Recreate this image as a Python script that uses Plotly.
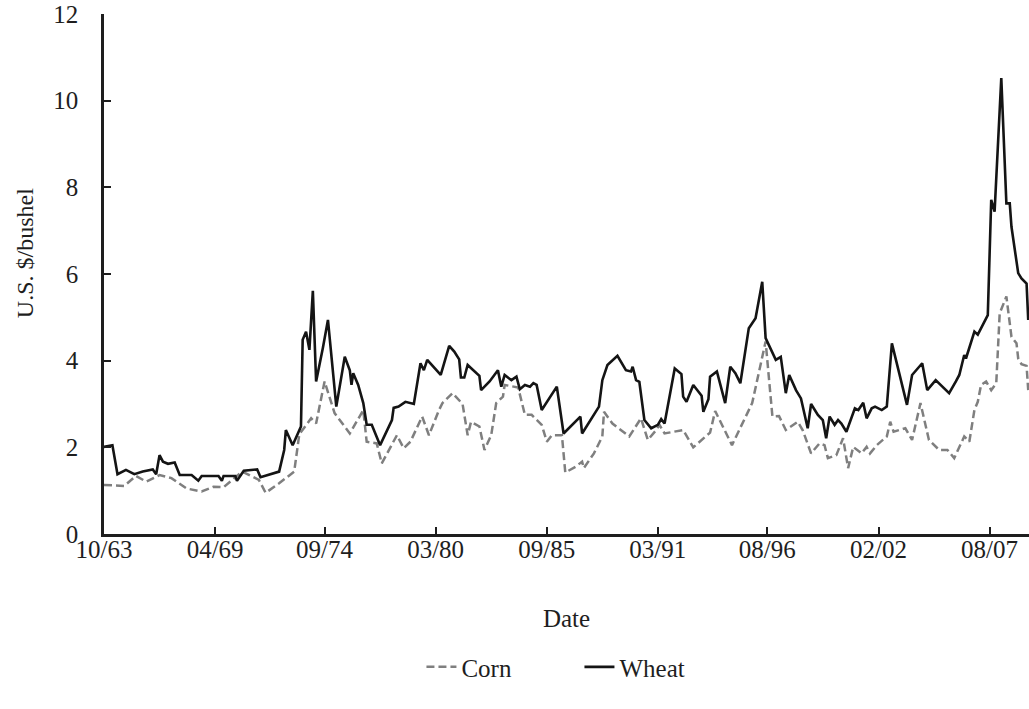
import plotly.graph_objects as go

# ---------------- data ----------------
corn_dates = [
    "1963-10", "1964-10", "1965-05", "1965-11", "1966-07", "1967-02", "1967-11", "1968-08",
    "1969-03", "1969-09", "1970-08", "1971-06", "1971-10", "1972-06", "1973-03", "1973-06",
    "1974-01", "1974-04", "1974-09", "1975-03", "1975-12", "1976-08", "1976-10", "1977-04",
    "1977-07", "1978-04", "1978-08", "1978-12", "1979-07", "1979-11", "1980-05", "1980-07",
    "1981-01", "1981-07", "1981-10", "1981-12", "1982-05", "1982-08", "1982-12", "1983-03",
    "1983-07", "1983-08", "1984-04", "1984-08", "1984-12", "1985-06", "1985-09", "1985-12",
    "1986-06", "1986-08", "1987-02", "1987-06", "1987-07", "1988-01", "1988-06", "1988-07",
    "1988-12", "1989-10", "1990-05", "1990-09", "1991-02", "1991-04", "1991-07", "1992-06",
    "1992-12", "1993-10", "1994-01", "1994-11", "1995-11", "1996-07", "1996-11", "1997-03",
    "1997-07", "1998-02", "1998-05", "1998-10", "1999-03", "1999-06", "1999-08", "2000-01",
    "2000-05", "2000-08", "2000-11", "2001-04", "2001-07", "2001-09", "2002-01", "2002-07",
    "2002-09", "2002-11", "2003-06", "2003-10", "2004-03", "2004-08", "2005-02", "2005-07",
    "2005-11", "2006-05", "2006-08", "2006-11", "2007-01", "2007-03", "2007-06", "2007-09",
    "2007-12", "2008-02", "2008-06", "2008-09", "2008-12", "2009-01", "2009-03", "2009-06",
    "2009-07",
]
corn_values = [
    1.13, 1.11, 1.34, 1.21, 1.36, 1.29, 1.05, 0.98,
    1.09, 1.08, 1.44, 1.25, 0.95, 1.17, 1.44, 2.30,
    2.67, 2.55, 3.52, 2.79, 2.32, 2.86, 2.13, 2.09,
    1.63, 2.28, 1.98, 2.13, 2.71, 2.28, 2.86, 3.02,
    3.25, 3.00, 2.28, 2.59, 2.48, 1.94, 2.28, 3.02,
    3.17, 3.44, 3.38, 2.75, 2.75, 2.52, 2.13, 2.28,
    2.28, 1.42, 1.55, 1.67, 1.52, 1.86, 2.25, 2.82,
    2.55, 2.25, 2.67, 2.17, 2.40, 2.52, 2.32, 2.40,
    2.00, 2.34, 2.84, 2.05, 3.02, 4.44, 2.71, 2.72,
    2.40, 2.59, 2.40, 1.86, 2.09, 2.05, 1.75, 1.82,
    2.21, 1.52, 2.01, 1.86, 2.01, 1.86, 2.05, 2.25,
    2.59, 2.36, 2.44, 2.17, 3.02, 2.17, 1.94, 1.94,
    1.75, 2.25, 2.13, 2.86, 3.05, 3.44, 3.52, 3.32,
    3.48, 5.09, 5.48, 4.55, 4.40, 4.05, 3.92, 3.88,
    3.32,
]

wheat_dates = [
    "1963-10", "1964-03", "1964-06", "1964-11", "1965-04", "1965-09", "1966-03", "1966-05",
    "1966-07", "1966-09", "1966-12", "1967-04", "1967-07", "1968-02", "1968-06", "1968-08",
    "1969-06", "1969-08", "1969-09", "1970-04", "1970-05", "1970-09", "1971-05", "1971-07",
    "1972-06", "1972-09", "1972-10", "1973-02", "1973-07", "1973-08", "1973-10", "1973-12",
    "1974-02", "1974-04", "1974-08", "1974-11", "1975-04", "1975-09", "1975-12", "1976-01",
    "1976-02", "1976-05", "1976-08", "1976-10", "1977-01", "1977-06", "1978-01", "1978-02",
    "1978-05", "1978-09", "1979-02", "1979-06", "1979-08", "1979-10", "1980-06", "1980-11",
    "1981-02", "1981-05", "1981-06", "1981-08", "1981-10", "1982-02", "1982-05", "1982-06",
    "1982-11", "1983-04", "1983-06", "1983-08", "1983-12", "1984-03", "1984-04", "1984-05",
    "1984-08", "1984-11", "1985-01", "1985-03", "1985-06", "1986-03", "1986-07", "1987-05",
    "1987-06", "1988-04", "1988-06", "1988-09", "1989-03", "1989-08", "1989-11", "1989-12",
    "1990-02", "1990-04", "1990-07", "1990-11", "1991-03", "1991-05", "1991-07", "1992-01",
    "1992-05", "1992-06", "1992-08", "1992-12", "1993-05", "1993-06", "1993-09", "1993-10",
    "1994-02", "1994-07", "1994-10", "1995-01", "1995-04", "1995-09", "1996-01", "1996-05",
    "1996-07", "1997-01", "1997-04", "1997-07", "1997-09", "1998-01", "1998-04", "1998-08",
    "1998-10", "1999-02", "1999-05", "1999-07", "1999-09", "1999-12", "2000-02", "2000-04",
    "2000-07", "2000-12", "2001-02", "2001-05", "2001-07", "2001-10", "2001-12", "2002-04",
    "2002-07", "2002-10", "2003-07", "2003-10", "2004-04", "2004-07", "2004-12", "2005-08",
    "2005-12", "2006-02", "2006-05", "2006-06", "2006-11", "2007-01", "2007-07", "2007-09",
    "2007-11", "2008-03", "2008-06", "2008-08", "2008-09", "2009-01", "2009-03", "2009-06",
    "2009-07",
]
wheat_values = [
    2.01, 2.05, 1.38, 1.48, 1.38, 1.44, 1.49, 1.38,
    1.82, 1.67, 1.62, 1.65, 1.36, 1.36, 1.23, 1.34,
    1.34, 1.23, 1.34, 1.34, 1.23, 1.46, 1.49, 1.31,
    1.44, 1.94, 2.40, 2.05, 2.48, 4.48, 4.67, 4.25,
    5.61, 3.52, 4.29, 4.94, 2.94, 4.09, 3.78, 3.44,
    3.71, 3.44, 3.02, 2.52, 2.52, 2.05, 2.63, 2.91,
    2.94, 3.05, 3.00, 3.94, 3.78, 4.02, 3.67, 4.34,
    4.21, 4.03, 3.61, 3.61, 3.90, 3.75, 3.65, 3.32,
    3.52, 3.78, 3.40, 3.67, 3.55, 3.63, 3.44, 3.34,
    3.44, 3.40, 3.48, 3.44, 2.86, 3.40, 2.32, 2.71,
    2.32, 2.94, 3.55, 3.90, 4.11, 3.78, 3.75, 3.86,
    3.55, 3.51, 2.63, 2.44, 2.52, 2.65, 2.55, 3.82,
    3.69, 3.17, 3.05, 3.44, 3.19, 2.82, 3.11, 3.63,
    3.75, 3.02, 3.86, 3.71, 3.48, 4.75, 4.98, 5.82,
    4.52, 4.02, 4.09, 3.25, 3.67, 3.32, 3.13, 2.44,
    3.00, 2.75, 2.63, 2.21, 2.71, 2.52, 2.63, 2.55,
    2.36, 2.90, 2.86, 3.03, 2.67, 2.90, 2.94, 2.86,
    2.94, 4.40, 2.98, 3.67, 3.94, 3.32, 3.55, 3.25,
    3.52, 3.67, 4.13, 4.05, 4.67, 4.60, 5.05, 7.71,
    7.44, 10.52, 7.63, 7.63, 7.09, 6.02, 5.90, 5.78,
    4.94,
]

tick_dates = ["1963-10-01", "1969-04-01", "1974-09-01", "1980-03-01", "1985-09-01",
              "1991-03-01", "1996-08-01", "2002-02-01", "2007-08-01"]
tick_labels = ["10/63", "04/69", "09/74", "03/80", "09/85", "03/91", "08/96", "02/02", "08/07"]
y_ticks = [0, 2, 4, 6, 8, 10, 12]

# ---------------- figure ----------------
FONT = "Liberation Serif, Times New Roman, serif"
INK = "#1e1e1e"

fig = go.Figure()
fig.add_trace(go.Scatter(
    x=corn_dates, y=corn_values, name="Corn", mode="lines",
    line=dict(color="#7f7f7f", width=2.5, dash="8px,4px"),
))
fig.add_trace(go.Scatter(
    x=wheat_dates, y=wheat_values, name="Wheat", mode="lines",
    line=dict(color="#141414", width=2.6),
))

fig.update_layout(
    width=1029, height=709,
    margin=dict(l=104, r=0, t=14, b=175, autoexpand=False),
    paper_bgcolor="white", plot_bgcolor="white",
    font=dict(family=FONT, size=25, color=INK),
    showlegend=True,
    legend=dict(orientation="h", x=0.514, xanchor="center", y=-0.256, yanchor="middle",
                entrywidth=113, entrywidthmode="pixels",
                font=dict(size=25, family=FONT, color=INK), bgcolor="rgba(0,0,0,0)"),
    annotations=[dict(
        text="U.S. $/bushel", xref="paper", yref="paper", x=-0.0854, y=0.54,
        textangle=-90, showarrow=False, xanchor="center", yanchor="middle",
        font=dict(size=24, family=FONT, color=INK),
    )],
)

fig.update_xaxes(
    type="date", range=["1963-10-01", "2009-07-15"], automargin=False,
    tickmode="array", tickvals=tick_dates, ticktext=tick_labels,
    ticks="inside", ticklen=7, tickwidth=2, tickcolor=INK,
    showline=True, linewidth=2.5, linecolor=INK,
    showgrid=False, zeroline=False,
    tickfont=dict(size=25, family=FONT, color=INK),
    ticklabelstandoff=-9,
    title=dict(text="Date", font=dict(size=25, family=FONT, color=INK), standoff=48),
)
fig.update_yaxes(
    range=[0, 12], tickmode="array", tickvals=y_ticks, automargin=False,
    ticks="inside", ticklen=7, tickwidth=2, tickcolor=INK,
    showline=True, linewidth=2.5, linecolor=INK,
    showgrid=False, zeroline=False,
    tickfont=dict(size=25, family=FONT, color=INK),
    ticklabelstandoff=18,
)

fig.write_html(
    "out.html",
    config={"displayModeBar": False},
    post_script="document.body.style.margin='0';document.body.style.overflow='hidden';",
)
